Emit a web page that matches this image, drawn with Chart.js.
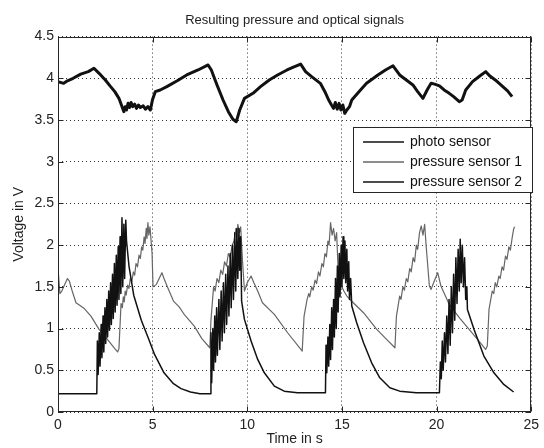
<!DOCTYPE html>
<html lang="en">
  <head>
    <meta charset="utf-8" />
    <title>Resulting pressure and optical signals</title>
    <script src="https://cdn.jsdelivr.net/npm/chart.js"></script>
    <style>
      html, body { margin: 0; padding: 0; background: #fff; overflow: hidden; }
      #chart { display: block; }
    </style>
  </head>
  <body>
    <canvas id="chart" width="544" height="448"></canvas>
    <script>
      // values: [time in s, voltage in V]
      const seriesLabels = ["photo sensor", "pressure sensor 1", "pressure sensor 2"];

      const photoSensor = [
        [0,3.96],[0.3,3.94],[0.5,3.97],[0.8,4.0],[1.2,4.05],[1.6,4.08],[1.9,4.12],[2.17,4.06],[2.5,3.98],[2.78,3.9],
        [3.0,3.84],[3.22,3.76],[3.35,3.68],[3.48,3.6],[3.55,3.66],[3.62,3.62],[3.7,3.7],[3.78,3.65],[3.86,3.71],[3.95,3.66],
        [4.05,3.69],[4.15,3.64],[4.25,3.68],[4.35,3.65],[4.5,3.67],[4.62,3.63],[4.75,3.66],[4.88,3.62],[5.0,3.75],[5.14,3.84],
        [5.4,3.86],[5.75,3.9],[6.3,3.97],[6.8,4.04],[7.4,4.1],[7.93,4.16],[8.1,4.1],[8.4,3.92],[8.72,3.74],[9.0,3.6],
        [9.24,3.51],[9.42,3.48],[9.6,3.62],[9.85,3.76],[10.3,3.82],[10.7,3.9],[11.16,3.98],[11.6,4.04],[12.1,4.1],[12.5,4.14],
        [12.82,4.17],[13.08,4.08],[13.4,4.02],[13.86,3.94],[14.1,3.84],[14.3,3.74],[14.45,3.68],[14.56,3.64],[14.65,3.71],[14.75,3.63],
        [14.85,3.7],[14.95,3.62],[15.05,3.68],[15.15,3.58],[15.26,3.62],[15.4,3.66],[15.52,3.74],[15.9,3.84],[16.3,3.94],[16.9,4.04],
        [17.3,4.1],[17.7,4.15],[18.05,4.04],[18.4,3.98],[18.75,3.92],[19.0,3.84],[19.28,3.76],[19.5,3.86],[19.71,3.94],[19.9,3.93],
        [20.15,3.91],[20.4,3.86],[20.67,3.82],[20.9,3.78],[21.05,3.75],[21.2,3.72],[21.35,3.74],[21.54,3.86],[21.9,3.96],[22.3,4.03],
        [22.6,4.08],[22.8,4.03],[23.1,3.98],[23.5,3.9],[23.75,3.85],[23.99,3.78]
      ];

      const pressure1 = [
        [0,1.73],[0.1,1.42],[0.2,1.45],[0.3,1.5],[0.5,1.6],[0.6,1.57],[0.75,1.45],[0.95,1.31],[1.2,1.27],[1.39,1.24],
        [1.74,1.15],[2.17,0.99],[2.61,0.87],[3.0,0.76],[3.15,0.72],[3.22,0.76],[3.3,1.15],[3.33,1.3],[3.4,1.25],[3.45,1.38],
        [3.5,1.32],[3.55,1.45],[3.6,1.4],[3.68,1.52],[3.75,1.48],[3.82,1.6],[3.9,1.56],[3.98,1.68],[4.05,1.64],[4.12,1.78],
        [4.2,1.74],[4.28,1.88],[4.35,1.84],[4.42,1.98],[4.48,1.94],[4.55,2.1],[4.6,2.02],[4.66,2.2],[4.7,2.08],[4.75,2.27],
        [4.8,2.12],[4.86,2.22],[4.92,2.05],[4.97,1.9],[5.02,1.5],[5.2,1.53],[5.3,1.58],[5.49,1.67],[5.6,1.6],[5.76,1.51],
        [6.1,1.33],[6.4,1.26],[6.7,1.16],[7.2,1.03],[7.6,0.88],[8.02,0.77],
        [8.08,1.1],[8.15,1.3],[8.22,1.5],[8.3,1.45],[8.4,1.6],[8.5,1.55],[8.6,1.7],[8.7,1.65],[8.8,1.8],[8.9,1.75],
        [9.0,1.9],[9.1,1.85],[9.2,2.0],[9.3,2.05],[9.4,2.2],[9.45,2.1],[9.5,2.25],[9.58,2.15],[9.65,2.22],[9.75,1.8],
        [9.85,1.45],[10.0,1.55],[10.2,1.63],[10.35,1.55],[10.55,1.45],[10.8,1.31],[11.43,1.17],[12.13,0.95],[12.83,0.75],[12.9,0.73],
        [13.0,1.15],[13.16,1.35],[13.25,1.42],[13.3,1.38],[13.4,1.5],[13.48,1.46],[13.58,1.58],[13.66,1.54],[13.76,1.68],[13.84,1.63],
        [13.94,1.78],[14.02,1.74],[14.1,1.9],[14.18,1.86],[14.26,2.05],[14.32,2.0],[14.4,2.27],[14.48,2.12],[14.56,2.2],[14.64,2.05],
        [14.72,2.15],[14.8,1.7],[14.9,1.55],[15.1,1.45],[15.26,1.39],[15.6,1.31],[16.14,1.19],[16.84,0.99],[17.36,0.87],[17.8,0.77],
        [17.88,1.15],[18.05,1.39],[18.12,1.35],[18.22,1.5],[18.3,1.46],[18.4,1.6],[18.48,1.56],[18.58,1.72],[18.66,1.68],[18.76,1.85],
        [18.84,1.8],[18.93,2.0],[19.0,1.95],[19.1,2.15],[19.19,2.23],[19.28,2.12],[19.37,2.25],[19.45,1.99],[19.62,1.51],[19.71,1.47],
        [19.88,1.57],[20.06,1.67],[20.23,1.51],[20.67,1.29],[21.2,1.13],[21.72,0.99],[22.24,0.85],[22.59,0.75],[22.68,0.79],
        [22.77,1.23],[22.94,1.45],[23.02,1.42],[23.1,1.55],[23.18,1.5],[23.29,1.63],[23.36,1.6],[23.46,1.74],[23.54,1.7],[23.64,1.87],
        [23.72,1.83],[23.82,1.98],[23.9,1.94],[24.0,2.1],[24.07,2.19],[24.12,2.22]
      ];

      const pressure2 = [
        [0,0.22],[2.05,0.22],[2.08,0.85],[2.12,0.45],[2.18,0.95],[2.22,0.55],[2.28,1.05],[2.32,0.65],[2.38,1.15],[2.42,0.72],
        [2.48,1.25],[2.52,0.82],[2.58,1.35],[2.62,0.9],[2.68,1.45],[2.72,0.98],[2.78,1.55],[2.82,1.05],[2.88,1.65],[2.92,1.12],
        [2.98,1.78],[3.02,1.2],[3.08,1.88],[3.12,1.28],[3.18,1.98],[3.22,1.35],[3.28,2.1],[3.32,1.42],[3.38,2.33],[3.42,1.5],
        [3.48,2.25],[3.52,1.6],[3.58,2.3],[3.62,2.05],[3.75,1.75],[4.0,1.4],[4.4,1.1],[4.8,0.87],[5.1,0.69],[5.6,0.47],
        [6.1,0.34],[6.5,0.28],[7.0,0.24],[7.5,0.22],[8.05,0.22],
        [8.08,0.95],[8.12,0.35],[8.18,1.0],[8.22,0.5],[8.28,1.15],[8.32,0.6],[8.38,1.25],[8.42,0.68],[8.5,1.35],[8.55,0.75],
        [8.62,1.45],[8.67,0.85],[8.74,1.55],[8.79,0.95],[8.86,1.65],[8.91,1.05],[8.98,1.75],[9.03,1.15],[9.1,1.9],[9.15,1.25],
        [9.22,2.0],[9.27,1.35],[9.34,2.15],[9.39,1.45],[9.45,2.2],[9.5,1.6],[9.56,2.2],[9.6,1.7],[9.65,2.1],[9.7,1.33],
        [9.85,1.11],[10.2,0.85],[10.55,0.63],[10.9,0.47],[11.43,0.31],[11.95,0.25],[12.65,0.23],[14.13,0.23],
        [14.16,0.8],[14.2,0.47],[14.26,0.9],[14.3,0.55],[14.36,1.05],[14.4,0.63],[14.46,1.25],[14.5,0.75],[14.56,1.35],[14.6,0.9],
        [14.66,1.6],[14.7,1.0],[14.76,1.75],[14.8,1.2],[14.86,1.9],[14.9,1.38],[14.96,2.0],[15.0,1.5],[15.06,2.1],[15.1,1.6],
        [15.16,2.05],[15.2,1.55],[15.26,1.95],[15.3,1.45],[15.36,1.8],[15.4,1.35],[15.46,1.6],[15.52,1.27],[15.78,1.07],[16.14,0.83],
        [16.57,0.59],[17.0,0.41],[17.53,0.29],[18.05,0.25],[18.93,0.23],[20.15,0.23],
        [20.2,0.6],[20.25,0.4],[20.3,0.85],[20.35,0.5],[20.42,0.95],[20.47,0.6],[20.54,1.15],[20.6,0.7],[20.66,1.35],[20.72,0.8],
        [20.78,1.5],[20.84,0.95],[20.9,1.65],[20.96,1.1],[21.02,1.85],[21.08,1.3],[21.14,1.95],[21.2,1.45],[21.25,2.07],[21.3,1.55],
        [21.36,2.0],[21.42,1.5],[21.48,1.85],[21.54,1.35],[21.6,1.5],[21.63,1.23],[21.98,0.99],[22.5,0.67],[23.03,0.47],[23.55,0.33],
        [24.07,0.24]
      ];

      const xMin = 0, xMax = 25, xStep = 5;
      const yMin = 0, yMax = 4.5, yStep = 0.5;

      const toPoints = (arr) => arr.map((p) => ({ x: p[0], y: p[1] }));

      Chart.defaults.font.family = '"Liberation Sans", Arial, sans-serif';
      Chart.defaults.color = "#222";

      // Matlab style box, inward ticks and legend inside the axes
      const matlabFrame = {
        id: "matlabFrame",
        afterDatasetsDraw(chart) {
          const { ctx, chartArea, scales } = chart;
          const l = Math.round(chartArea.left) + 0.5;
          const r = Math.round(chartArea.right) - 0.5;
          const t = Math.round(chartArea.top) + 0.5;
          const b = Math.round(chartArea.bottom) - 0.5;
          ctx.save();
          ctx.strokeStyle = "#262626";
          ctx.lineWidth = 1;
          ctx.setLineDash([]);
          ctx.strokeRect(l, t, r - l, b - t);

          ctx.beginPath();
          scales.x.ticks.forEach((tk) => {
            const px = Math.round(scales.x.getPixelForValue(tk.value)) + 0.5;
            ctx.moveTo(px, b); ctx.lineTo(px, b - 5);
            ctx.moveTo(px, t); ctx.lineTo(px, t + 5);
          });
          scales.y.ticks.forEach((tk) => {
            const py = Math.round(scales.y.getPixelForValue(tk.value)) + 0.5;
            ctx.moveTo(l, py); ctx.lineTo(l + 5, py);
            ctx.moveTo(r, py); ctx.lineTo(r - 5, py);
          });
          ctx.stroke();

          // legend
          const bx = 353.5, by = 127.5, bw = 179, bh = 65;
          ctx.fillStyle = "#fff";
          ctx.fillRect(bx, by, bw, bh);
          ctx.strokeRect(bx, by, bw, bh);
          ctx.font = '14px "Liberation Sans", Arial, sans-serif';
          ctx.textBaseline = "middle";
          ctx.textAlign = "left";
          chart.data.datasets.forEach((ds, i) => {
            const y = 142 + i * 20;
            ctx.strokeStyle = ds.borderColor;
            ctx.lineWidth = 1.3;
            ctx.beginPath();
            ctx.moveTo(363, y);
            ctx.lineTo(404, y);
            ctx.stroke();
            ctx.fillStyle = "#111";
            ctx.fillText(ds.label, 410, y);
          });
          ctx.restore();
        },
      };

      new Chart(document.getElementById("chart"), {
        type: "line",
        data: {
          datasets: [
            {
              label: seriesLabels[0],
              data: toPoints(photoSensor),
              borderColor: "#111",
              borderWidth: 3,
              order: 3,
            },
            {
              label: seriesLabels[1],
              data: toPoints(pressure1),
              borderColor: "#666",
              borderWidth: 1.2,
              order: 2,
            },
            {
              label: seriesLabels[2],
              data: toPoints(pressure2),
              borderColor: "#111",
              borderWidth: 1.5,
              order: 1,
            },
          ],
        },
        options: {
          responsive: false,
          devicePixelRatio: 1,
          animation: false,
          layout: { padding: { left: 0, right: 8, top: 0, bottom: 0 } },
          elements: {
            point: { radius: 0, hoverRadius: 0 },
            line: { tension: 0, borderJoinStyle: "round" },
          },
          plugins: {
            legend: { display: false },
            tooltip: { enabled: false },
            title: {
              display: true,
              text: "Resulting pressure and optical signals",
              fullSize: false,
              color: "#222",
              font: { size: 13, weight: "normal" },
              padding: { top: 13, bottom: 8 },
            },
          },
          scales: {
            x: {
              type: "linear",
              min: xMin,
              max: xMax,
              ticks: { stepSize: xStep, padding: 5, font: { size: 14 }, color: "#222", callback: (v) => String(v) },
              grid: { color: "#333", lineWidth: 1, drawTicks: false },
              border: { display: false, dash: [1, 3] },
              title: {
                display: true,
                text: "Time in s",
                font: { size: 14 },
                color: "#222",
                padding: { top: 0, bottom: 0 },
              },
              afterFit(scale) { scale.height = 36; },
            },
            y: {
              min: yMin,
              max: yMax,
              ticks: { stepSize: yStep, padding: 4, font: { size: 14 }, color: "#222", callback: (v) => String(v) },
              grid: { color: "#333", lineWidth: 1, drawTicks: false },
              border: { display: false, dash: [1, 3] },
              title: {
                display: true,
                text: "Voltage in V",
                font: { size: 14 },
                color: "#222",
                padding: { top: 11, bottom: 0 },
              },
              afterFit(scale) { scale.width = 58; },
            },
          },
        },
        plugins: [matlabFrame],
      });
    </script>
  </body>
</html>
